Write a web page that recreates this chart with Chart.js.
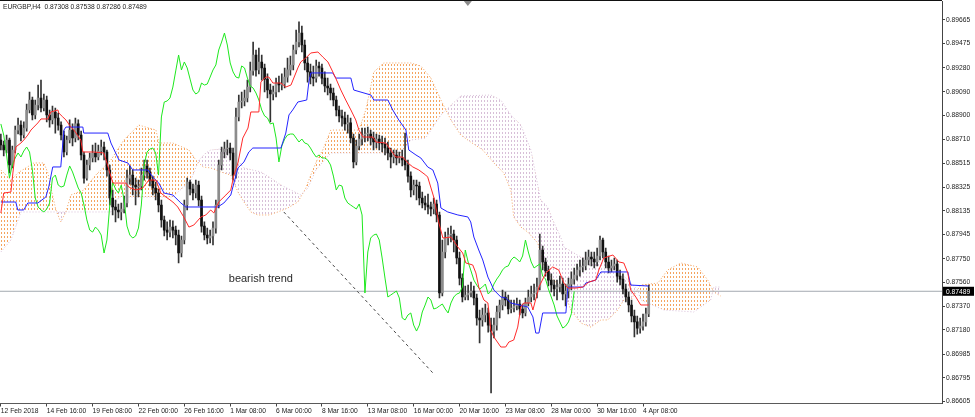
<!DOCTYPE html>
<html lang="en">
<head>
  <meta charset="UTF-8">
  <title>EURGBP H4</title>
  <script src="https://cdn.jsdelivr.net/npm/chart.js"></script>
  <style>
    html, body { margin: 0; padding: 0; background: #fff; }
    #wrap { position: relative; width: 975px; height: 417px; }
  </style>
</head>
<body>
<div id="wrap"><canvas id="chart"></canvas></div>

<script>
  // header values of the last bar (open, high, low, close)
  const symbol = 'EURGBP,H4';
  const lastBar = [0.87308, 0.87538, 0.87286, 0.87489];

  // bottom time labels, one every 16 bars
  const xTickLabels = ['12 Feb 2018', '14 Feb 16:00', '19 Feb 08:00', '22 Feb 00:00', '26 Feb 16:00',
    '1 Mar 08:00', '6 Mar 00:00', '8 Mar 16:00', '13 Mar 08:00', '16 Mar 00:00', '20 Mar 16:00',
    '23 Mar 08:00', '28 Mar 00:00', '30 Mar 16:00', '4 Apr 08:00'];
  const yTickValues = [0.89665, 0.89475, 0.89280, 0.89090, 0.88900, 0.88710, 0.88515, 0.88325, 0.88135,
    0.87945, 0.87750, 0.87560, 0.87370, 0.87180, 0.86985, 0.86795, 0.86605];

  // H4 candles (open of each bar = previous close)
  const firstOpen = 0.88702;
  const closes = [
    0.88662,0.88622,0.88702,0.88502,0.88622,0.88782,0.88822,0.88742,0.88798,0.88943,
    0.89023,0.88903,0.88983,0.89039,0.88959,0.89023,0.88903,0.88863,0.88927,0.88879,
    0.88822,0.88742,0.88606,0.88702,0.88782,0.88718,0.88831,0.88742,0.88582,0.88397,
    0.88502,0.88558,0.88598,0.88566,0.88614,0.88646,0.88606,0.88462,0.88237,0.88165,
    0.88141,0.88125,0.88149,0.88197,0.88397,0.88421,0.88341,0.88325,0.88333,0.88421,
    0.88494,0.88446,0.88381,0.88317,0.88277,0.88181,0.88061,0.87980,0.87964,0.88004,
    0.87980,0.87940,0.87796,0.87900,0.88181,0.88365,0.88309,0.88277,0.88341,0.88221,
    0.88012,0.87940,0.87916,0.87932,0.87996,0.88181,0.88502,0.88606,0.88630,0.88638,
    0.88598,0.88421,0.88887,0.89007,0.89015,0.89039,0.89127,0.89256,0.89384,0.89264,
    0.89328,0.89280,0.89191,0.89103,0.89071,0.89087,0.89159,0.89143,0.89151,0.89207,
    0.89264,0.89304,0.89424,0.89488,0.89560,0.89464,0.89320,0.89248,0.89207,0.89199,
    0.89296,0.89280,0.89199,0.89135,0.89119,0.89079,0.89023,0.88943,0.88895,0.88879,
    0.88831,0.88839,0.88718,0.88526,0.88654,0.88710,0.88742,0.88750,0.88750,0.88718,
    0.88686,0.88710,0.88678,0.88670,0.88638,0.88598,0.88566,0.88582,0.88558,0.88558,
    0.88542,0.88502,0.88413,0.88301,0.88341,0.88333,0.88237,0.88197,0.88181,0.88165,
    0.88149,0.88189,0.88101,0.87475,0.87804,0.87916,0.87940,0.87948,0.87900,0.87756,
    0.87595,0.87443,0.87459,0.87475,0.87491,0.87435,0.87275,0.87259,0.87299,0.87315,
    0.87218,0.87170,0.87218,0.87323,0.87379,0.87443,0.87419,0.87347,0.87355,0.87371,
    0.87387,0.87347,0.87315,0.87395,0.87443,0.87467,0.87475,0.87523,0.87820,0.87724,
    0.87652,0.87579,0.87539,0.87507,0.87523,0.87547,0.87467,0.87491,0.87547,0.87587,
    0.87619,0.87660,0.87684,0.87692,0.87740,0.87764,0.87748,0.87724,0.87772,0.87900,
    0.87804,0.87724,0.87676,0.87692,0.87708,0.87611,0.87587,0.87507,0.87443,0.87379,
    0.87291,0.87243,0.87194,0.87210,0.87243,0.87308,0.87489
  ];
  const highs = [
    0.88750,0.88694,0.88742,0.88718,0.88654,0.88814,0.88879,0.88855,0.88847,0.88991,
    0.89087,0.89047,0.89023,0.89143,0.89183,0.89071,0.89055,0.88943,0.88975,0.88959,
    0.88919,0.88847,0.88774,0.88734,0.88863,0.88831,0.88879,0.88863,0.88774,0.88606,
    0.88542,0.88598,0.88662,0.88678,0.88662,0.88702,0.88686,0.88622,0.88502,0.88301,
    0.88221,0.88189,0.88197,0.88253,0.88462,0.88494,0.88462,0.88397,0.88381,0.88478,
    0.88542,0.88542,0.88478,0.88413,0.88365,0.88309,0.88221,0.88093,0.88045,0.88061,
    0.88053,0.88012,0.87980,0.87932,0.88221,0.88397,0.88381,0.88349,0.88381,0.88373,
    0.88253,0.88045,0.87996,0.87980,0.88045,0.88221,0.88542,0.88646,0.88686,0.88702,
    0.88678,0.88638,0.88959,0.89063,0.89087,0.89103,0.89183,0.89328,0.89488,0.89424,
    0.89440,0.89384,0.89312,0.89232,0.89151,0.89135,0.89199,0.89215,0.89232,0.89280,
    0.89360,0.89376,0.89464,0.89584,0.89649,0.89616,0.89504,0.89368,0.89312,0.89296,
    0.89344,0.89328,0.89312,0.89248,0.89199,0.89151,0.89119,0.89055,0.88975,0.88943,
    0.88927,0.88903,0.88879,0.88750,0.88702,0.88750,0.88798,0.88798,0.88806,0.88782,
    0.88766,0.88750,0.88742,0.88734,0.88718,0.88686,0.88638,0.88622,0.88622,0.88606,
    0.88622,0.88758,0.88542,0.88446,0.88381,0.88381,0.88365,0.88285,0.88253,0.88269,
    0.88205,0.88237,0.88221,0.88125,0.87900,0.87964,0.87996,0.88012,0.87980,0.87932,
    0.87804,0.87628,0.87531,0.87539,0.87563,0.87531,0.87467,0.87339,0.87355,0.87387,
    0.87355,0.87275,0.87275,0.87371,0.87419,0.87499,0.87483,0.87459,0.87419,0.87419,
    0.87435,0.87419,0.87387,0.87435,0.87499,0.87531,0.87547,0.87595,0.87948,0.87852,
    0.87756,0.87692,0.87628,0.87579,0.87579,0.87611,0.87595,0.87547,0.87595,0.87644,
    0.87676,0.87708,0.87740,0.87756,0.87804,0.87820,0.87804,0.87804,0.87836,0.87932,
    0.87916,0.87836,0.87772,0.87740,0.87756,0.87740,0.87660,0.87628,0.87547,0.87483,
    0.87419,0.87339,0.87291,0.87275,0.87307,0.87355,0.87538
  ];
  const lows = [
    0.88622,0.88574,0.88598,0.88438,0.88478,0.88598,0.88750,0.88694,0.88718,0.88774,
    0.88919,0.88863,0.88871,0.88943,0.88927,0.88935,0.88847,0.88806,0.88831,0.88758,
    0.88782,0.88702,0.88566,0.88582,0.88678,0.88654,0.88686,0.88702,0.88542,0.88357,
    0.88381,0.88462,0.88526,0.88526,0.88542,0.88582,0.88542,0.88413,0.88181,0.88101,
    0.88045,0.88077,0.88061,0.88117,0.88165,0.88349,0.88261,0.88181,0.88245,0.88301,
    0.88381,0.88397,0.88333,0.88261,0.88221,0.88125,0.88004,0.87932,0.87900,0.87924,
    0.87916,0.87860,0.87716,0.87764,0.87868,0.88141,0.88261,0.88221,0.88237,0.88173,
    0.87964,0.87900,0.87868,0.87876,0.87860,0.87956,0.88157,0.88462,0.88558,0.88582,
    0.88542,0.88381,0.88397,0.88855,0.88959,0.88975,0.89007,0.89087,0.89223,0.89215,
    0.89232,0.89183,0.89087,0.89039,0.88847,0.89023,0.89047,0.89087,0.89103,0.89119,
    0.89167,0.89223,0.89264,0.89392,0.89448,0.89408,0.89264,0.89167,0.89151,0.89135,
    0.89167,0.89215,0.89151,0.89087,0.89063,0.89023,0.88975,0.88895,0.88847,0.88814,
    0.88782,0.88758,0.88678,0.88478,0.88502,0.88622,0.88662,0.88686,0.88694,0.88662,
    0.88622,0.88638,0.88622,0.88606,0.88582,0.88542,0.88478,0.88518,0.88502,0.88518,
    0.88494,0.88462,0.88365,0.88245,0.88261,0.88221,0.88181,0.88157,0.88141,0.88109,
    0.88093,0.88109,0.88045,0.87435,0.87451,0.87756,0.87860,0.87884,0.87804,0.87708,
    0.87539,0.87403,0.87419,0.87419,0.87443,0.87379,0.87218,0.87074,0.87210,0.87243,
    0.87162,0.86673,0.87114,0.87178,0.87275,0.87339,0.87371,0.87307,0.87315,0.87323,
    0.87339,0.87299,0.87275,0.87291,0.87371,0.87403,0.87419,0.87435,0.87499,0.87660,
    0.87611,0.87531,0.87483,0.87451,0.87419,0.87483,0.87419,0.87371,0.87435,0.87499,
    0.87547,0.87579,0.87611,0.87644,0.87660,0.87700,0.87692,0.87676,0.87692,0.87740,
    0.87756,0.87676,0.87636,0.87644,0.87660,0.87563,0.87539,0.87467,0.87403,0.87323,
    0.87243,0.87122,0.87146,0.87154,0.87178,0.87210,0.87286
  ];

  // Ichimoku lines as [bar, price]
  const tenkan = [
    [0,0.88117],[1.0,0.88277],[3.5,0.88285],[4.2,0.88438],[5.2,0.88646],[7.0,0.88678],[8.0,0.88702],
    [9.4,0.88742],[10.5,0.88782],[11.5,0.88806],[12.9,0.88839],[14.0,0.88871],[16.4,0.88871],
    [17.4,0.88927],[19.9,0.88943],[20.2,0.88919],[21.6,0.88887],[22.7,0.88863],[24.4,0.88806],
    [25.5,0.88782],[27.9,0.88702],[28.6,0.88606],[32.4,0.88606],[35.9,0.88598],[37.0,0.88518],
    [38.0,0.88438],[39.1,0.88357],[43.6,0.88357],[44.6,0.88325],[47.1,0.88301],[49.5,0.88317],
    [51.6,0.88381],[54.1,0.88381],[55.8,0.88277],[57.6,0.88245],[60.0,0.88205],[61.7,0.88165],
    [63.8,0.88085],[65.6,0.88004],[67.3,0.88020],[69.8,0.88085],[71.5,0.88101],[73.2,0.88141],
    [74.3,0.88117],[76.0,0.88205],[78.5,0.88261],[80.2,0.88301],[81.3,0.88421],[82.7,0.88518],
    [84.4,0.88718],[86.2,0.88798],[87.2,0.88927],[90.0,0.88927],[90.7,0.89167],[92.4,0.89207],
    [93.5,0.89207],[94.9,0.89159],[97.7,0.89159],[99.4,0.89127],[101.2,0.89143],[103.6,0.89280],
    [104.6,0.89328],[106.4,0.89360],[108.1,0.89400],[110.6,0.89408],[112.3,0.89368],[114.1,0.89328],
    [115.8,0.89248],[116.8,0.89199],[118.6,0.89103],[120.3,0.89023],[122.1,0.88943],[123.8,0.88863],
    [124.9,0.88782],[126.3,0.88726],[129.8,0.88726],[130.8,0.88686],[134.3,0.88678],[136.0,0.88622],
    [137.8,0.88566],[140.2,0.88566],[142.0,0.88518],[143.7,0.88486],[145.8,0.88462],[148.2,0.88421],
    [148.9,0.88405],[151.0,0.88245],[152.8,0.88037],[154.2,0.87916],[157.0,0.87924],[159.4,0.87844],
    [161.1,0.87796],[162.2,0.87716],[164.6,0.87700],[165.7,0.87636],[166.7,0.87523],[168.5,0.87419],
    [169.9,0.87395],[170.9,0.87178],[172.0,0.87122],[174.4,0.87042],[176.1,0.87042],[177.2,0.87082],
    [178.9,0.87098],[180.3,0.87202],[181.4,0.87363],[182.4,0.87395],[184.9,0.87395],[185.6,0.87339],
    [187.7,0.87523],[190.1,0.87636],[192.5,0.87684],[194.6,0.87660],[196.4,0.87555],[197.8,0.87515],
    [200.6,0.87515],[203.0,0.87523],[205.1,0.87563],[207.5,0.87579],[208.6,0.87660],[210.3,0.87756],
    [213.5,0.87780],[215.6,0.87724],[217.3,0.87716],[218.7,0.87636],[219.7,0.87499],[221.5,0.87443],
    [223.2,0.87379],[226.0,0.87379]
  ];
  const kijun = [
    [0,0.88205],[5.2,0.88205],[5.9,0.88141],[8.0,0.88141],[9.4,0.88197],[12.9,0.88197],[15.7,0.88245],
    [16.7,0.88325],[18.1,0.88486],[20.9,0.88486],[22.0,0.88782],[22.7,0.88806],[28.6,0.88806],
    [28.9,0.88758],[37.3,0.88758],[38.4,0.88678],[41.2,0.88542],[44.3,0.88518],[46.0,0.88462],
    [51.3,0.88462],[53.0,0.88405],[55.1,0.88357],[56.9,0.88277],[60.0,0.88261],[62.8,0.88197],
    [64.5,0.88165],[75.7,0.88165],[77.8,0.88197],[80.2,0.88261],[82.7,0.88478],[84.8,0.88526],
    [86.5,0.88606],[87.9,0.88638],[97.7,0.88638],[99.4,0.88758],[100.5,0.88903],[101.8,0.88943],
    [103.6,0.89007],[106.7,0.89023],[107.4,0.89159],[108.1,0.89240],[115.8,0.89240],[116.8,0.89199],
    [122.1,0.89199],[123.1,0.89103],[129.1,0.89063],[130.1,0.89023],[135.0,0.89023],[136.7,0.88943],
    [138.8,0.88863],[141.3,0.88782],[142.3,0.88622],[144.8,0.88582],[146.5,0.88558],[148.9,0.88486],
    [150.7,0.88462],[152.4,0.88357],[153.5,0.88157],[155.9,0.88125],[159.4,0.88101],[162.9,0.88085],
    [163.9,0.88045],[165.0,0.87924],[166.7,0.87820],[168.1,0.87740],[169.9,0.87603],[170.9,0.87555],
    [172.0,0.87499],[174.4,0.87443],[176.1,0.87435],[177.9,0.87395],[183.8,0.87363],[185.6,0.87283],
    [186.6,0.87154],[187.7,0.87154],[189.0,0.87315],[197.1,0.87315],[197.8,0.87523],[203.3,0.87523],
    [204.0,0.87555],[207.5,0.87579],[209.3,0.87644],[218.7,0.87644],[219.7,0.87539],[226.0,0.87531]
  ];
  // Senkou span A / B (already shifted 26 bars ahead)
  const spanA = [
    [0,0.88462],[3.5,0.88381],[5.9,0.88438],[11.5,0.88518],[15.0,0.88518],[16.4,0.88438],[17.4,0.88325],
    [19.2,0.88141],[20.9,0.88045],[22.7,0.88125],[24.4,0.88261],[28.9,0.88301],[33.1,0.88421],
    [38.4,0.88542],[42.9,0.88702],[48.1,0.88822],[54.1,0.88782],[55.1,0.88678],[60.0,0.88678],
    [65.6,0.88622],[68.0,0.88542],[70.5,0.88486],[73.2,0.88478],[76.7,0.88446],[80.2,0.88421],
    [82.7,0.88285],[84.8,0.88205],[87.2,0.88125],[89.6,0.88101],[93.5,0.88101],[96.6,0.88125],
    [100.1,0.88157],[103.6,0.88205],[106.4,0.88317],[108.1,0.88421],[110.6,0.88558],[112.3,0.88622],
    [115.1,0.88782],[124.9,0.88782],[127.3,0.88943],[130.1,0.89248],[133.6,0.89320],[143.0,0.89320],
    [146.5,0.89296],[150.0,0.89199],[153.5,0.89023],[157.0,0.88863],[160.4,0.88742],[163.9,0.88686],
    [168.1,0.88622],[172.0,0.88518],[175.4,0.88438],[177.9,0.88301],[178.9,0.88085],[181.4,0.88004],
    [183.8,0.87964],[187.3,0.87876],[189.4,0.87684],[191.8,0.87603],[196.4,0.87499],[198.8,0.87339],
    [202.3,0.87235],[205.8,0.87202],[209.3,0.87259],[211.7,0.87259],[215.2,0.87339],[217.3,0.87419],
    [219.7,0.87419],[223.2,0.87539],[229.2,0.87555],[232.6,0.87660],[237.2,0.87716],[243.1,0.87684],
    [246.6,0.87579],[248.7,0.87483],[251.1,0.87451]
  ];
  const spanB = [
    [0,0.87804],[3.5,0.87900],[7.0,0.88125],[38.4,0.88125],[41.2,0.88245],[60.0,0.88245],[66.3,0.88381],
    [69.1,0.88542],[71.5,0.88598],[73.2,0.88622],[80.2,0.88638],[81.9,0.88558],[84.8,0.88478],
    [90.7,0.88446],[94.2,0.88397],[97.7,0.88341],[101.2,0.88301],[104.6,0.88261],[107.1,0.88317],
    [109.9,0.88462],[115.1,0.88598],[139.5,0.88598],[143.0,0.88702],[148.2,0.88718],[153.5,0.88903],
    [160.4,0.89055],[170.9,0.89063],[174.4,0.89023],[177.9,0.88903],[181.4,0.88822],[184.9,0.88622],
    [188.3,0.88221],[190.8,0.88165],[192.5,0.88061],[195.3,0.87924],[196.4,0.87844],[202.3,0.87764],
    [206.8,0.87740],[213.8,0.87684],[218.7,0.87579],[222.2,0.87499],[223.2,0.87419],[231.3,0.87339],
    [241.7,0.87323],[247.6,0.87419],[248.7,0.87523],[251.1,0.87523]
  ];
  const chikouShift = 26;

  // hand drawn trend line and its caption
  const trendLine = [[98.7, 0.88125], [150.7, 0.86834]];
  const trendCaption = 'bearish trend';
  const trendCaptionAt = [90.7, 0.87587];

  const xMin = -0.3, xMax = 328.3;
  const yMin = 0.86589, yMax = 0.89817;
  const shiftMarkBar = 162.9;

  const opens = [firstOpen].concat(closes.slice(0, -1));
  const lastClose = lastBar[3];

  // MT4 style dotted hatch for the cloud
  function hatch(color) {
    const c = document.createElement('canvas');
    c.width = 3; c.height = 4;
    const g = c.getContext('2d');
    g.fillStyle = color;
    g.fillRect(1, 0, 1, 2);
    return g.createPattern(c, 'repeat');
  }
  const sandy = '#f4a460', thistle = '#d8bfd8';
  const font = 'Liberation Sans';

  const overlay = {
    id: 'overlay',
    afterDatasetsDraw(chart) {
      const {ctx, scales: {x, y}} = chart;
      ctx.save();
      ctx.fillStyle = '#2a2a2a';
      ctx.font = `11px "${font}"`;
      ctx.textAlign = 'center';
      ctx.textBaseline = 'middle';
      ctx.fillText(trendCaption, x.getPixelForValue(trendCaptionAt[0]), y.getPixelForValue(trendCaptionAt[1]));
      ctx.restore();
    },
    afterDraw(chart) {
      const {ctx, chartArea, scales: {x, y}} = chart;
      ctx.save();
      // top border
      ctx.strokeStyle = '#111';
      ctx.lineWidth = 1;
      ctx.beginPath();
      ctx.moveTo(0, 0.5);
      ctx.lineTo(chartArea.right, 0.5);
      ctx.stroke();
      // shift marker
      const mx = x.getPixelForValue(shiftMarkBar);
      ctx.fillStyle = '#8a8a8a';
      ctx.beginPath();
      ctx.moveTo(mx - 4, 1);
      ctx.lineTo(mx + 4, 1);
      ctx.lineTo(mx, 6);
      ctx.closePath();
      ctx.fill();
      // header
      ctx.fillStyle = '#1a1a1a';
      ctx.font = `6.7px "${font}"`;
      ctx.textAlign = 'left';
      ctx.textBaseline = 'middle';
      ctx.fillText(symbol + '  ' + lastBar.map(v => v.toFixed(5)).join(' '), 3, 7.5);
      // current price box on the price scale
      const py = y.getPixelForValue(lastClose);
      ctx.fillStyle = '#000';
      ctx.fillRect(chartArea.right + 1, py - 4.5, 31, 9);
      ctx.fillStyle = '#fff';
      ctx.fillText(lastClose.toFixed(5), chartArea.right + 4, py + 0.5);
      ctx.restore();
    }
  };

  const line = (data, color, order, extra) => Object.assign({
    type: 'line', data, borderColor: color, borderWidth: 1, pointRadius: 0,
    tension: 0, fill: false, order
  }, extra || {});

  new Chart(document.getElementById('chart'), {
    type: 'line',
    data: {
      datasets: [
        line(spanA, sandy, 20, {
          borderDash: [1, 2],
          fill: { target: '+1', above: hatch(sandy), below: hatch(thistle) }
        }),
        line(spanB, thistle, 19, { borderDash: [1, 2] }),
        line([[xMin, lastClose], [xMax, lastClose]], '#a3a9b0', 18),
        {
          type: 'bar', order: 17, grouped: false, barThickness: 1,
          data: closes.map((c, i) => ({ x: i, y: [lows[i], highs[i]] })),
          backgroundColor: '#333'
        },
        {
          type: 'bar', order: 16, grouped: false, barThickness: 2, minBarLength: 1,
          data: closes.map((c, i) => ({ x: i, y: [opens[i], c] })),
          backgroundColor: ctx => closes[ctx.dataIndex] >= opens[ctx.dataIndex] ? '#8c8c8c' : '#111'
        },
        line(closes.slice(chikouShift).map((c, i) => [i, c]), '#1ee81e', 15),
        line(kijun, '#2424ff', 14),
        line(tenkan, '#ff2a2a', 13),
        line(trendLine, '#4a4a4a', 12, { borderDash: [3, 3] })
      ]
    },
    options: {
      responsive: true,
      maintainAspectRatio: false,
      animation: false,
      events: [],
      layout: { padding: { top: 1, left: 0, right: 0, bottom: 0 } },
      plugins: { legend: { display: false }, tooltip: { enabled: false } },
      scales: {
        x: {
          type: 'linear', min: xMin, max: xMax, offset: false,
          grid: { offset: false, drawOnChartArea: false, tickLength: 3, color: '#444' },
          border: { color: '#5a5a5a' },
          ticks: {
            autoSkip: false, maxRotation: 0, align: 'start', padding: 1, color: '#1a1a1a',
            font: { family: font, size: 6.7 },
            callback: (v, i) => xTickLabels[i]
          },
          afterBuildTicks: s => { s.ticks = xTickLabels.map((t, i) => ({ value: i * 16 })); },
          afterFit: s => { s.height = 13.5; s.paddingLeft = 0; s.paddingRight = 0; }
        },
        y: {
          position: 'right', min: yMin, max: yMax,
          grid: { drawOnChartArea: false, tickLength: 3, color: '#444' },
          border: { color: '#444' },
          ticks: {
            autoSkip: false, padding: 1, color: '#1a1a1a',
            font: { family: font, size: 6.7 },
            callback: v => v.toFixed(5)
          },
          afterBuildTicks: s => { s.ticks = yTickValues.map(v => ({ value: v })); },
          afterFit: s => { s.width = 33; s.paddingTop = 0; s.paddingBottom = 0; }
        }
      }
    },
    plugins: [overlay]
  });
</script>
</body>
</html>
